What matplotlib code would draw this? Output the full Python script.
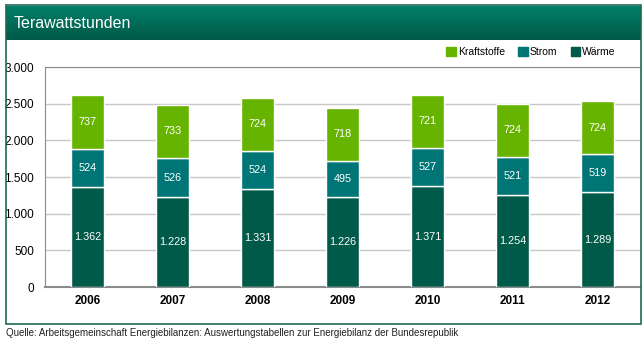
import numpy as np
import matplotlib
matplotlib.use("Agg")
import matplotlib.pyplot as plt
from matplotlib.patches import Rectangle, Patch

plt.rcParams['font.family'] = ['Liberation Sans', 'DejaVu Sans']

years = ['2006', '2007', '2008', '2009', '2010', '2011', '2012']
waerme = [1362, 1228, 1331, 1226, 1371, 1254, 1289]
strom = [524, 526, 524, 495, 527, 521, 519]
kraftstoffe = [737, 733, 724, 718, 721, 724, 724]

c_kraft = '#66b300'
c_strom = '#007575'
c_waerme = '#005a4a'

W, H = 644, 341
fig = plt.figure(figsize=(W / 100, H / 100), dpi=100)

def fx(px):
    return px / W

def fy(py):
    return 1 - py / H

# outer frame
fig.patches.append(Rectangle((fx(6), fy(324)), fx(641) - fx(6), fy(5) - fy(324),
                             transform=fig.transFigure, fill=False,
                             edgecolor='#1e6a55', linewidth=1.2))

# header gradient
hax = fig.add_axes([fx(6), fy(40), fx(641) - fx(6), fy(6) - fy(40)])
grad = np.linspace(0, 1, 64).reshape(-1, 1)
top = np.array([0x00, 0x80, 0x68]) / 255
bot = np.array([0x00, 0x58, 0x48]) / 255
img = top + (bot - top) * grad[:, :, None]
hax.imshow(img, aspect='auto', extent=[0, 1, 0, 1])
hax.set_axis_off()
hax.text(0.012, 0.5, 'Terawattstunden', color='white', fontsize=11.5,
         va='center', ha='left', transform=hax.transAxes)

# main plot
ax = fig.add_axes([fx(45), fy(287), fx(640) - fx(45), fy(67) - fy(287)])
x = np.arange(len(years))
w = 0.39
ax.bar(x, waerme, w, color=c_waerme, edgecolor='white', linewidth=1, zorder=3)
ax.bar(x, strom, w, bottom=waerme, color=c_strom, edgecolor='white', linewidth=1, zorder=3)
bottom3 = [a + b for a, b in zip(waerme, strom)]
ax.bar(x, kraftstoffe, w, bottom=bottom3, color=c_kraft, edgecolor='white', linewidth=1, zorder=3)

def fmt(v):
    return f'{v:,}'.replace(',', '.')

for i in range(len(years)):
    ax.text(x[i], waerme[i] / 2, fmt(waerme[i]), ha='center', va='center',
            color='white', fontsize=7.8, zorder=4)
    ax.text(x[i], waerme[i] + strom[i] / 2, fmt(strom[i]), ha='center', va='center',
            color='white', fontsize=7.8, zorder=4)
    ax.text(x[i], bottom3[i] + kraftstoffe[i] / 2, fmt(kraftstoffe[i]), ha='center',
            va='center', color='white', fontsize=7.8, zorder=4)

ax.set_xlim(-0.5, len(years) - 0.5)
ax.set_ylim(0, 3000)
ax.set_yticks(range(0, 3001, 500))
ax.set_yticklabels([fmt(v) for v in range(0, 3001, 500)], fontsize=8.5)
ax.set_xticks(x)
ax.set_xticklabels(years, fontsize=8.5, fontweight='bold')
ax.tick_params(axis='both', length=0, pad=6)
ax.tick_params(axis='y', pad=8)
ax.grid(axis='y', color='#c8c8c8', linewidth=1, zorder=0)
for s in ['left', 'top']:
    ax.spines[s].set_color('#8a8a8a')
ax.spines['bottom'].set_color('#8a8a8a')
ax.spines['bottom'].set_linewidth(1.5)
ax.spines['right'].set_visible(False)

handles = [Patch(color=c_kraft, label='Kraftstoffe'),
           Patch(color=c_strom, label='Strom'),
           Patch(color=c_waerme, label='Wärme')]
fig.legend(handles=handles, ncol=3, frameon=False, fontsize=7.5,
           loc='center right', bbox_to_anchor=(fx(620), fy(52)),
           handlelength=0.9, handleheight=0.9, handletextpad=0.2,
           columnspacing=1.3, borderaxespad=0)

fig.text(fx(6), fy(333), 'Quelle: Arbeitsgemeinschaft Energiebilanzen: Auswertungstabellen zur Energiebilanz der Bundesrepublik',
         fontsize=7, ha='left', va='center', color='#222222')

fig.savefig('out.png', dpi=100)
